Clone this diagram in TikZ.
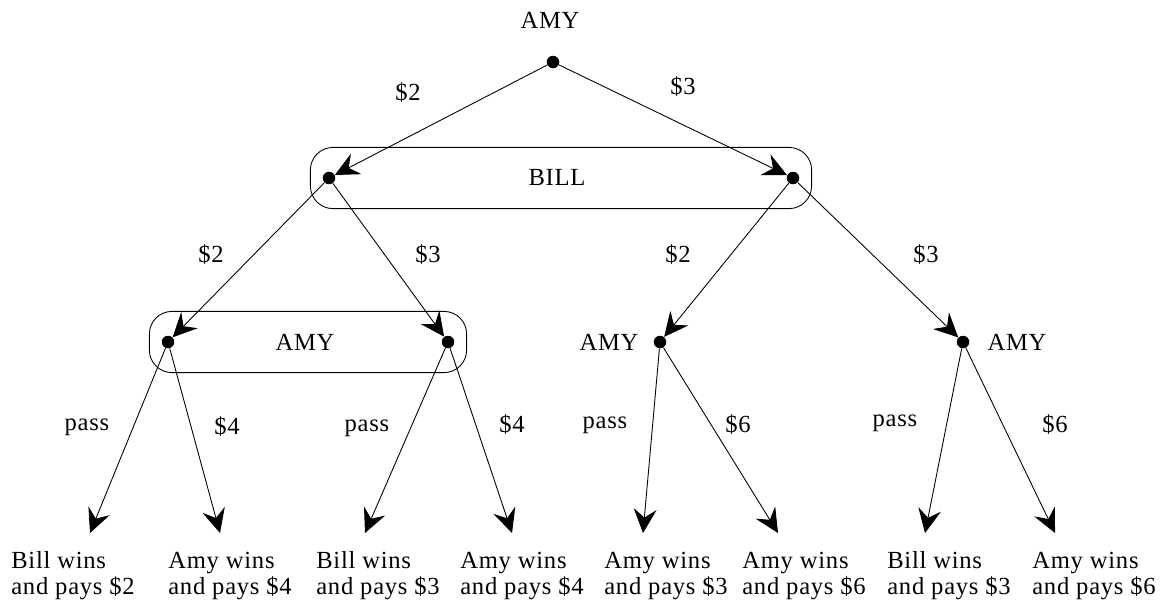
\documentclass[tikz,border=0pt]{standalone}
\usepackage{fontspec}
\setmainfont{Liberation Serif}[LetterSpace=3]
\usepackage{tikz}
\usetikzlibrary{arrows.meta, positioning, fit}

\begin{document}
\begin{tikzpicture}[
        x=0.02cm, y=-0.02cm,
        font=\fontsize{14}{14.8}\selectfont,
        % Define Styles
        dot/.style={circle, fill=black, inner sep=0pt, minimum size=0.25cm},
        infoset/.style={rectangle, draw=black, line width=0.5pt, rounded corners=0.45cm, inner xsep=0.24cm, inner ysep=0.48cm},
        lbl/.style={inner sep=0pt},
        leaf/.style={anchor=west, align=left, inner sep=0pt},
        move/.style={-{Stealth[length=0.48cm, width=0.46cm, inset=0.17cm]}, line width=0.5pt}
    ]
    \useasboundingbox (0,0) rectangle (1167,600);

    % --- DECISION NODES ---
    \node[dot] (root) at (553,62) {};
    \node[lbl] (rootname) at (550,20) {AMY};

    \node[dot] (b1) at (329,178) {};
    \node[dot] (b2) at (793,178) {};

    \node[dot] (a1) at (168,342) {};
    \node[dot] (a2) at (448,342) {};
    \node[dot] (a3) at (660,342) {};
    \node[dot] (a4) at (963,342) {};
    \node[lbl] (a3name) at (609,342) {AMY};
    \node[lbl] (a4name) at (1017,342) {AMY};

    % --- INFORMATION SETS ---
    \node[infoset, fit=(b1)(b2)] (billset) {};
    \node[lbl] (billname) at (557,177) {BILL};
    \node[infoset, fit=(a1)(a2)] (amyset) {};
    \node[lbl] (amyname) at (305,342) {AMY};

    % --- END POINTS ---
    \coordinate (t1) at (90,533);
    \coordinate (t2) at (220,533);
    \coordinate (t3) at (365,533);
    \coordinate (t4) at (512,533);
    \coordinate (t5) at (643,533);
    \coordinate (t6) at (778,533);
    \coordinate (t7) at (925,533);
    \coordinate (t8) at (1055,533);

    % --- MOVES ---
    \draw[move] (root) -- (b1);
    \draw[move] (root) -- (b2);
    \draw[move] (b1) -- (a1);
    \draw[move] (b1) -- (a2);
    \draw[move] (b2) -- (a3);
    \draw[move] (b2) -- (a4);
    \draw[move] (a1) -- (t1);
    \draw[move] (a1) -- (t2);
    \draw[move] (a2) -- (t3);
    \draw[move] (a2) -- (t4);
    \draw[move] (a3) -- (t5);
    \draw[move] (a3) -- (t6);
    \draw[move] (a4) -- (t7);
    \draw[move] (a4) -- (t8);

    % --- MOVE LABELS ---
    \node[lbl] (m1) at (408,93) {\$2};
    \node[lbl] (m2) at (683,87) {\$3};
    \node[lbl] (m3) at (211,255) {\$2};
    \node[lbl] (m4) at (428,255) {\$3};
    \node[lbl] (m5) at (678,255) {\$2};
    \node[lbl] (m6) at (926,255) {\$3};
    \node[lbl] (m7) at (87,427) {pass};
    \node[lbl] (m8) at (227,427) {\$4};
    \node[lbl] (m9) at (367,428) {pass};
    \node[lbl] (m10) at (512,425) {\$4};
    \node[lbl] (m11) at (605,425) {pass};
    \node[lbl] (m12) at (738,425) {\$6};
    \node[lbl] (m13) at (895,423) {pass};
    \node[lbl] (m14) at (1055,425) {\$6};

    % --- OUTCOMES ---
    \node[leaf] (o1) at (11,576) {Bill wins\\and pays \$2};
    \node[leaf] (o2) at (168,576) {Amy wins\\and pays \$4};
    \node[leaf] (o3) at (316,576) {Bill wins\\and pays \$3};
    \node[leaf] (o4) at (460,576) {Amy wins\\and pays \$4};
    \node[leaf] (o5) at (604,576) {Amy wins\\and pays \$3};
    \node[leaf] (o6) at (742,576) {Amy wins\\and pays \$6};
    \node[leaf] (o7) at (887,576) {Bill wins\\and pays \$3};
    \node[leaf] (o8) at (1032,576) {Amy wins\\and pays \$6};

\end{tikzpicture}
\end{document}
